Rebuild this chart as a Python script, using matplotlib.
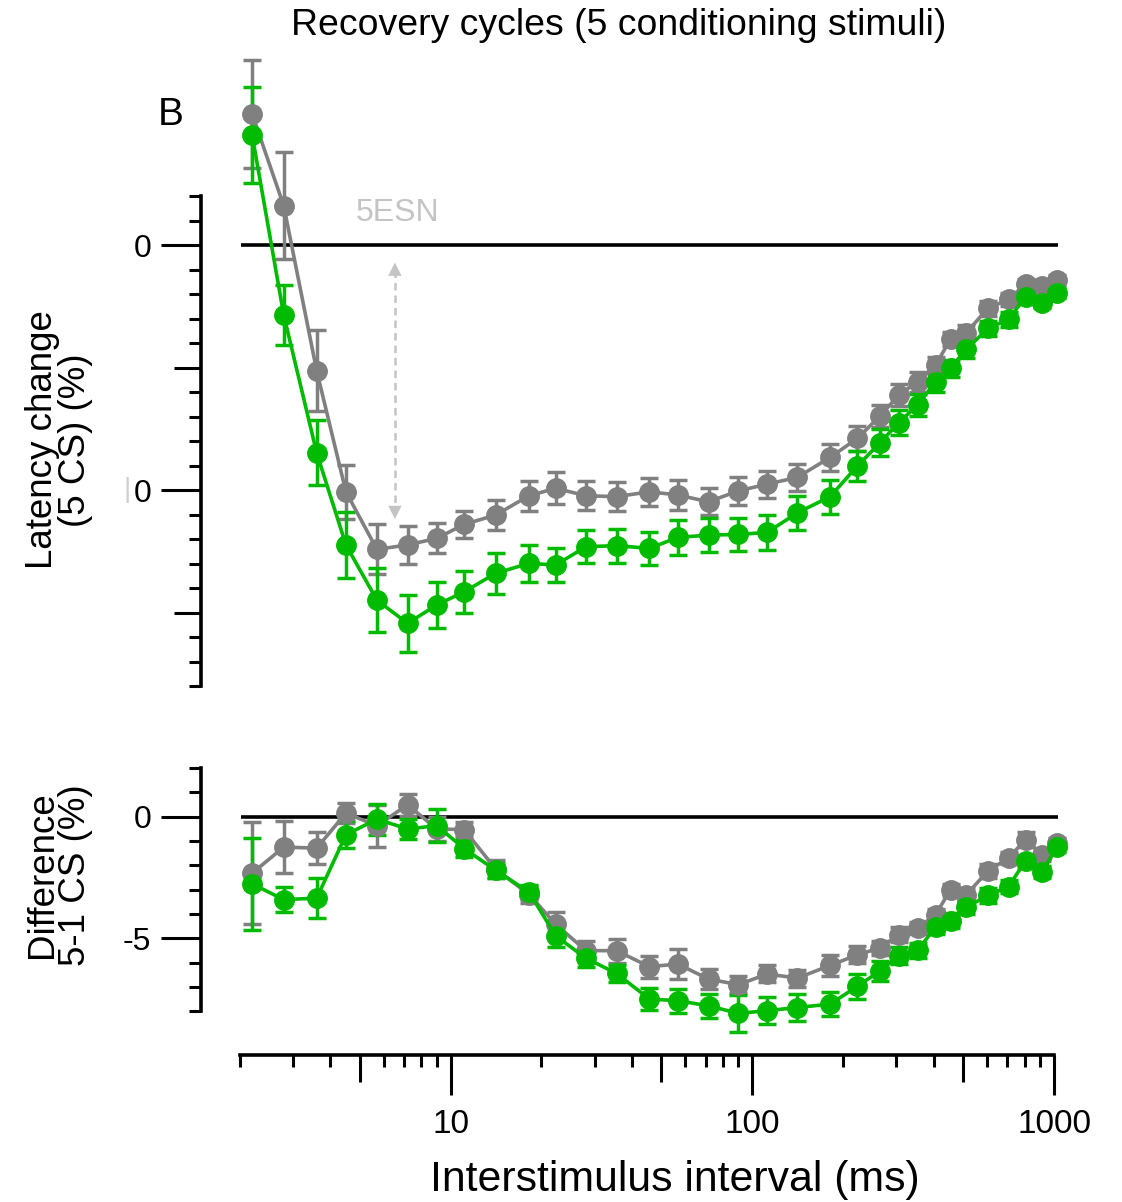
import numpy as np
import matplotlib
matplotlib.use('Agg')
import matplotlib.pyplot as plt
from matplotlib.ticker import FixedLocator, FixedFormatter, NullFormatter

plt.rcParams['font.family'] = ['Liberation Sans', 'DejaVu Sans']

# interstimulus intervals (ms)
isi = [2.2, 2.8, 3.6, 4.5, 5.7, 7.2, 9.0, 11.1, 14.1, 18.2, 22.3, 28.1, 35.5, 45.6,
       56.7, 71.6, 90, 112, 141, 181, 223, 265, 306, 353, 405, 454, 512, 604, 707,
       805, 913, 1020]

# latency change (5 CS), %
lat_gray = [5.35, 1.6, -5.13, -10.07, -12.42, -12.24, -11.97, -11.4, -11.02, -10.23,
            -9.93, -10.23, -10.27, -10.07, -10.2, -10.48, -10.03, -9.76, -9.48, -8.67,
            -7.89, -6.98, -6.12, -5.58, -4.9, -3.84, -3.58, -2.58, -2.22, -1.59, -1.67, -1.43]
lat_gray_err = [2.2, 2.19, 1.65, 1.1, 1.02, 0.77, 0.61, 0.56, 0.6, 0.62, 0.65, 0.58, 0.6,
                0.58, 0.6, 0.55, 0.58, 0.55, 0.55, 0.55, 0.5, 0.45, 0.45, 0.4, 0.35, 0.3,
                0.3, 0.3, 0.25, 0.2, 0.2, 0.2]
lat_green = [4.49, -2.86, -8.48, -12.24, -14.49, -15.44, -14.69, -14.15, -13.4, -12.99,
             -13.06, -12.31, -12.27, -12.38, -11.93, -11.84, -11.81, -11.73, -10.93, -10.27,
             -9.02, -8.07, -7.25, -6.53, -5.58, -5.03, -4.26, -3.4, -3.03, -2.11, -2.35, -1.95]
lat_green_err = [1.97, 1.22, 1.33, 1.36, 1.31, 1.16, 0.92, 0.85, 0.85, 0.75, 0.7, 0.68, 0.7,
                 0.68, 0.7, 0.68, 0.68, 0.7, 0.68, 0.7, 0.6, 0.55, 0.5, 0.45, 0.4, 0.35,
                 0.35, 0.3, 0.3, 0.25, 0.2, 0.2]

# difference 5-1 CS, %
diff_gray = [-2.32, -1.25, -1.29, 0.15, -0.37, 0.49, -0.5, -0.53, -2.15, -3.2, -4.42,
             -5.51, -5.51, -6.17, -6.06, -6.68, -6.91, -6.47, -6.64, -6.12, -5.68, -5.4,
             -4.85, -4.58, -4.03, -3.0, -3.2, -2.24, -1.69, -0.94, -1.56, -1.09]
diff_gray_err = [2.1, 1.06, 0.65, 0.4, 0.87, 0.45, 0.5, 0.3, 0.35, 0.35, 0.5, 0.4, 0.5,
                 0.45, 0.62, 0.4, 0.35, 0.35, 0.35, 0.45, 0.35, 0.3, 0.3, 0.25, 0.25, 0.25,
                 0.25, 0.3, 0.25, 0.3, 0.25, 0.2]
diff_green = [-2.76, -3.41, -3.35, -0.74, -0.1, -0.5, -0.37, -1.31, -2.2, -3.1, -4.9,
              -5.82, -6.45, -7.5, -7.57, -7.78, -8.09, -7.98, -7.85, -7.71, -6.98, -6.34,
              -5.72, -5.5, -4.54, -4.27, -3.72, -3.24, -2.87, -1.81, -2.29, -1.25]
diff_green_err = [1.9, 0.52, 0.82, 0.55, 0.64, 0.4, 0.68, 0.35, 0.3, 0.3, 0.45, 0.35, 0.35,
                  0.45, 0.5, 0.5, 0.75, 0.55, 0.55, 0.5, 0.5, 0.4, 0.35, 0.3, 0.3, 0.3,
                  0.3, 0.3, 0.25, 0.25, 0.25, 0.2]

GRAY = '#808080'
GREEN = '#00bb00'
LIGHT = '#c4c4c4'

fig = plt.figure(figsize=(11.22, 12.02), dpi=100)
ax1 = fig.add_axes([0.2136, 0.4231, 0.7258, 0.5565])
ax2 = fig.add_axes([0.2136, 0.1527, 0.7258, 0.2143])

major_len, med_len, minor_len = 28.8, 19.4, 8.6


def draw_series(ax, y, err, color):
    cont = ax.errorbar(isi, y, yerr=err, fmt='o-', color=color, ms=14, lw=2.6,
                       elinewidth=2.5, capsize=6.5, capthick=2.5, zorder=3)
    for art in cont.get_children():
        art.set_clip_on(False)


for ax in (ax1, ax2):
    ax.set_xscale('log')
    ax.set_xlim(2, 1000)
    ax.hlines(0, 2.02, 1030, color='black', lw=2.6, zorder=1, clip_on=False)
    for s in ('top', 'right'):
        ax.spines[s].set_visible(False)
    ax.spines['left'].set_position(('outward', 28))
    ax.spines['left'].set_linewidth(2.6)
    ax.tick_params(axis='y', which='major', length=major_len, width=2.2, labelsize=23, pad=7)
    ax.tick_params(axis='y', which='minor', length=minor_len, width=2.2)

draw_series(ax1, lat_gray, lat_gray_err, GRAY)
draw_series(ax1, lat_green, lat_green_err, GREEN)
draw_series(ax2, diff_gray, diff_gray_err, GRAY)
draw_series(ax2, diff_green, diff_green_err, GREEN)

# top panel axes
ax1.set_ylim(-18.3, 9.0)
ax1.spines['bottom'].set_visible(False)
ax1.spines['left'].set_bounds(-18, 2)
ax1.xaxis.set_major_locator(FixedLocator([]))
ax1.xaxis.set_minor_locator(FixedLocator([]))
ax1.yaxis.set_major_locator(FixedLocator([-10, 0]))
ax1.yaxis.set_major_formatter(FixedFormatter(['0', '0']))
top_minor = [v for v in range(-18, 3) if v not in (0, -10)]
ax1.yaxis.set_minor_locator(FixedLocator(top_minor))
ax1.yaxis.set_minor_formatter(NullFormatter())
for t, v in zip(ax1.yaxis.get_minor_ticks(), top_minor):
    if v in (-5, -15):
        t.tick1line.set_markersize(med_len)

# bottom panel axes
ax2.set_ylim(-8.3, 2.3)
ax2.spines['left'].set_bounds(-8, 2)
ax2.spines['bottom'].set_position(('outward', 26.3))
ax2.spines['bottom'].set_bounds(2, 1000)
ax2.spines['bottom'].set_linewidth(2.6)
ax2.yaxis.set_major_locator(FixedLocator([-5, 0]))
ax2.yaxis.set_major_formatter(FixedFormatter(['-5', '0']))
bot_minor = [v for v in range(-8, 3) if v not in (0, -5)]
ax2.yaxis.set_minor_locator(FixedLocator(bot_minor))
ax2.yaxis.set_minor_formatter(NullFormatter())

x_major = [10, 100, 1000]
x_minor = [2, 3, 4, 5, 6, 7, 8, 9, 20, 30, 40, 50, 60, 70, 80, 90,
           200, 300, 400, 500, 600, 700, 800, 900]
ax2.xaxis.set_major_locator(FixedLocator(x_major))
ax2.xaxis.set_major_formatter(FixedFormatter(['10', '100', '1000']))
ax2.xaxis.set_minor_locator(FixedLocator(x_minor))
ax2.xaxis.set_minor_formatter(NullFormatter())
ax2.tick_params(axis='x', which='major', length=major_len, width=2.2, labelsize=24, pad=10)
ax2.tick_params(axis='x', which='minor', length=minor_len, width=2.2)
for t, v in zip(ax2.xaxis.get_minor_ticks(), x_minor):
    if v in (5, 50, 500):
        t.tick1line.set_markersize(med_len)

# faint remnant next to the lower "0" of the top panel
ax1.annotate('|', xy=(0, -10), xycoords=('axes fraction', 'data'), xytext=(-81, 0),
             textcoords='offset points', ha='center', va='center', fontsize=20,
             color='#d0d0d0')

# 5ESN annotation and dashed double arrow
ax1.text(6.69, 1.31, '5ESN', color=LIGHT, fontsize=23, ha='center', va='center')
arrow_x = 6.54
ax1.plot([arrow_x, arrow_x], [-1.0, -10.9], ls=(0, (3, 2)), color=LIGHT, lw=1.8, zorder=2)
ax1.annotate('', xy=(arrow_x, -0.6), xytext=(arrow_x, -1.2),
             arrowprops=dict(arrowstyle='-|>', color=LIGHT, lw=0, mutation_scale=24))
ax1.annotate('', xy=(arrow_x, -11.3), xytext=(arrow_x, -10.7),
             arrowprops=dict(arrowstyle='-|>', color=LIGHT, lw=0, mutation_scale=24))

fig.text(0.551, 0.979, 'Recovery cycles (5 conditioning stimuli)', ha='center',
         va='center', fontsize=26.9)
fig.text(0.152, 0.904, 'B', ha='center', va='center', fontsize=28)
fig.text(0.0525, 0.634, 'Latency change\n(5 CS) (%)', rotation=90, ha='center',
         va='center', fontsize=26.5, linespacing=0.95)
fig.text(0.0525, 0.272, 'Difference\n5-1 CS (%)', rotation=90, ha='center',
         va='center', fontsize=26.5, linespacing=0.95)
fig.text(0.6016, 0.0183, 'Interstimulus interval (ms)', ha='center', va='center',
         fontsize=30.8)

fig.savefig('out.png', dpi=100)
